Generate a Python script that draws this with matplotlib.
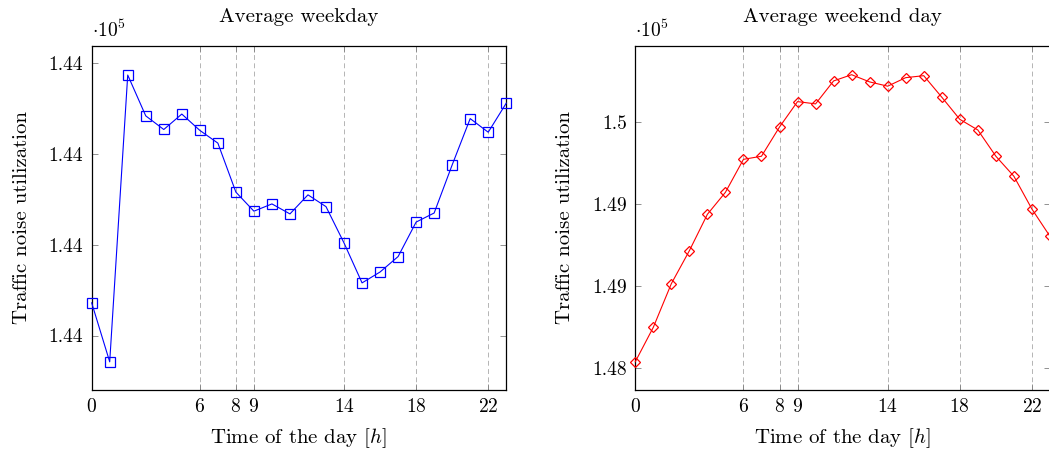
import numpy as np
import matplotlib
matplotlib.use("Agg")
import matplotlib.pyplot as plt
from matplotlib.ticker import FixedLocator, FuncFormatter

plt.rcParams['font.family'] = ['cmr10', 'DejaVu Serif']
plt.rcParams['mathtext.fontset'] = 'cm'
plt.rcParams['axes.formatter.use_mathtext'] = True
plt.rcParams['axes.unicode_minus'] = False

# hourly averages, hour 0..23
hours = np.arange(24)
weekday = [143973.6, 143967.1, 143998.7, 143994.2, 143992.7, 143994.4,
           143992.6, 143991.2, 143985.8, 143983.7, 143984.5, 143983.4,
           143985.5, 143984.2, 143980.2, 143975.8, 143977.0, 143978.7,
           143982.5, 143983.5, 143988.8, 143993.9, 143992.4, 143995.6]
weekend = [148040, 148250, 148516, 148717, 148939, 149073,
           149274, 149293, 149471, 149626, 149612, 149752,
           149790, 149746, 149720, 149772, 149784, 149653,
           149518, 149453, 149293, 149171, 148971, 148805]

xticks = [0, 6, 8, 9, 14, 18, 22]
weekday_yticks = [143970, 143980, 143990, 144000]
weekend_yticks = [148000, 148500, 149000, 149500]


def sci_label(v, pos):
    # two decimals in units of 1e5, rounded half up, trailing zeros dropped
    r = np.floor(v / 1e3 + 0.5 + 1e-9) / 100
    return f"{r:g}"


fig = plt.figure(figsize=(10.49, 4.54), dpi=100)
ax1 = fig.add_axes([0.0874, 0.141, 0.3952, 0.7577])
ax2 = fig.add_axes([0.6056, 0.141, 0.3953, 0.7577])

panels = [
    (ax1, weekday, 'blue', 's', 6.5, weekday_yticks, (143964.0, 144001.9), 'Average weekday'),
    (ax2, weekend, 'red', 'D', 5.0, weekend_yticks, (147868, 149965), 'Average weekend day'),
]

for ax, vals, col, mk, ms, yt, ylim, title in panels:
    ax.plot(hours, vals, color=col, lw=0.8, marker=mk, ms=ms,
            mfc='none', mec=col, mew=0.9, clip_on=False, zorder=3)
    ax.set_xlim(0, 23)
    ax.set_ylim(*ylim)
    ax.xaxis.set_major_locator(FixedLocator(xticks))
    ax.yaxis.set_major_locator(FixedLocator(yt))
    ax.yaxis.set_major_formatter(FuncFormatter(sci_label))
    ax.grid(axis='x', color='#b4b4b4', lw=0.7, ls=(0, (5, 3.5)))
    ax.tick_params(direction='in', length=4, width=0.6, color='#808080',
                   top=True, right=True, labelsize=14, pad=6)
    for s in ax.spines.values():
        s.set_linewidth(0.9)
    ax.set_title(title, fontsize=15, pad=17)
    ax.set_xlabel('Time of the day [$h$]', fontsize=15, labelpad=7)
    ax.set_ylabel('Traffic noise utilization', fontsize=15, labelpad=13)
    ax.text(0, 1.015, r'$\cdot 10^5$', transform=ax.transAxes,
            ha='left', va='bottom', fontsize=14)

fig.savefig('out.png', dpi=100)
